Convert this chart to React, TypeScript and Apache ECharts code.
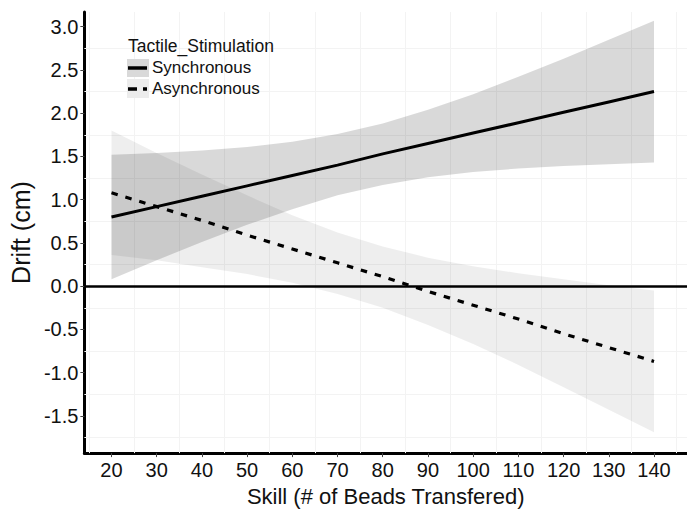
import React, { useEffect, useRef } from "react";
import * as echarts from "echarts";

const xs = [20, 30, 40, 50, 60, 70, 80, 90, 100, 110, 120, 130, 140];
const syncFit = [0.8, 0.92, 1.04, 1.16, 1.28, 1.4, 1.53, 1.65, 1.77, 1.89, 2.01, 2.13, 2.25];
const syncUpper = [1.52, 1.54, 1.57, 1.61, 1.67, 1.76, 1.88, 2.04, 2.22, 2.42, 2.63, 2.85, 3.07];
const syncLower = [0.08, 0.3, 0.51, 0.71, 0.89, 1.05, 1.17, 1.26, 1.32, 1.36, 1.39, 1.41, 1.43];
const asyncFit = [1.08, 0.92, 0.76, 0.59, 0.43, 0.27, 0.11, -0.06, -0.22, -0.38, -0.55, -0.71, -0.87];
const asyncUpper = [1.8, 1.54, 1.29, 1.05, 0.82, 0.62, 0.46, 0.33, 0.23, 0.15, 0.08, 0.01, -0.05];
const asyncLower = [0.36, 0.3, 0.22, 0.14, 0.04, -0.09, -0.25, -0.45, -0.67, -0.91, -1.17, -1.43, -1.69];

const minorGridX = [15, 25, 35, 45, 55, 65, 75, 85, 95, 105, 115, 125, 135, 145];
const minorGridY = [-1.75, -1.25, -0.75, -0.25, 0.25, 0.75, 1.25, 1.75, 2.25, 2.75];

const seriesNames = ["Synchronous", "Asynchronous"];
const legendTitle = "Tactile_Stimulation";
const xTitle = "Skill (# of Beads Transfered)";
const yTitle = "Drift (cm)";

const FONT = "'Liberation Sans', Arial, sans-serif";

const pairs = (arr: number[]) => xs.map((x, i) => [x, arr[i]]);

const bandSeries = (name: string, upper: number[], lower: number[], fill: string) => ({
  name,
  type: "custom",
  silent: true,
  clip: true,
  z: 2,
  data: [[xs[0], lower[0], upper[0]]],
  renderItem: (_params: any, api: any) => {
    const pts: number[][] = [];
    for (let i = 0; i < xs.length; i++) pts.push(api.coord([xs[i], upper[i]]));
    for (let i = xs.length - 1; i >= 0; i--) pts.push(api.coord([xs[i], lower[i]]));
    return {
      type: "polygon",
      shape: { points: pts },
      style: { fill, stroke: "none" },
    };
  },
});

export default function App() {
  const ref = useRef<HTMLDivElement>(null);
  useEffect(() => {
    if (!ref.current) return;
    const chart = echarts.init(ref.current, null, { renderer: "svg" });
    const option: any = {
      animation: false,
      grid: { left: 82, top: 12, right: 0, bottom: 47, containLabel: false },
      xAxis: {
        type: "value",
        min: 14,
        max: 147.3,
        minInterval: 10,
        maxInterval: 10,
        splitNumber: 13,
        name: xTitle,
        nameLocation: "middle",
        nameGap: 31,
        nameTextStyle: { fontSize: 22, color: "#111", fontFamily: FONT },
        axisLine: { show: true, onZero: false, lineStyle: { color: "#000", width: 3 } },
        axisTick: { show: true, length: 4, lineStyle: { color: "#444", width: 1 } },
        minorTick: { show: false },
        axisLabel: {
          fontSize: 20,
          color: "#111",
          fontFamily: FONT,
          margin: 7,
          showMinLabel: false,
          showMaxLabel: false,
          formatter: (v: number) => String(Math.round(v)),
        },
        splitLine: { show: false },
        minorSplitLine: { show: false },
      },
      yAxis: {
        type: "value",
        min: -1.93,
        max: 3.17,
        minInterval: 0.5,
        maxInterval: 0.5,
        splitNumber: 10,
        name: yTitle,
        nameLocation: "middle",
        nameRotate: 90,
        nameGap: 47,
        nameTextStyle: { fontSize: 25, color: "#111", fontFamily: FONT },
        axisLine: { show: true, lineStyle: { color: "#000", width: 3 } },
        axisTick: { show: true, length: 4, lineStyle: { color: "#444", width: 1 } },
        minorTick: { show: false },
        axisLabel: {
          fontSize: 20,
          color: "#111",
          fontFamily: FONT,
          margin: 6,
          showMinLabel: false,
          showMaxLabel: false,
          formatter: (v: number) => v.toFixed(1),
        },
        splitLine: { show: false },
        minorSplitLine: { show: false },
      },
      series: [
        {
          name: "grid",
          type: "line",
          data: [],
          symbol: "none",
          silent: true,
          z: 1,
          markLine: {
            silent: true,
            z: 1,
            symbol: ["none", "none"],
            label: { show: false },
            lineStyle: { color: "#f3f3f3", width: 1, type: "solid" },
            data: [
              ...minorGridY.map((v) => ({ yAxis: v })),
              ...minorGridX.map((v) => ({ xAxis: v })),
            ],
          },
        },
        bandSeries("syncBand", syncUpper, syncLower, "rgba(0,0,0,0.15)"),
        bandSeries("asyncBand", asyncUpper, asyncLower, "rgba(0,0,0,0.065)"),
        {
          name: seriesNames[0],
          type: "line",
          data: pairs(syncFit),
          symbol: "none",
          z: 4,
          lineStyle: { color: "#000", width: 3, type: "solid" },
          silent: true,
          markLine: {
            silent: true,
            z: 3,
            symbol: ["none", "none"],
            label: { show: false },
            lineStyle: { color: "#000", width: 2.5, type: "solid" },
            data: [{ yAxis: 0 }],
          },
        },
        {
          name: seriesNames[1],
          type: "line",
          data: pairs(asyncFit),
          symbol: "none",
          z: 4,
          lineStyle: { color: "#000", width: 3.2, type: [6.5, 8] },
          silent: true,
        },
      ],
      graphic: [
        {
          type: "text",
          left: 128,
          top: 37,
          z: 10,
          style: { text: legendTitle, fontSize: 17.5, fill: "#111", fontFamily: FONT },
        },
        { type: "rect", z: 10, shape: { x: 127, y: 59, width: 22, height: 18 }, style: { fill: "#d9d9d9" } },
        { type: "rect", z: 10, shape: { x: 127, y: 79, width: 22, height: 19 }, style: { fill: "#ececec" } },
        {
          type: "line",
          z: 11,
          shape: { x1: 128, y1: 68, x2: 147, y2: 68 },
          style: { stroke: "#000", lineWidth: 3.5 },
        },
        {
          type: "line",
          z: 11,
          shape: { x1: 128, y1: 89, x2: 147, y2: 89 },
          style: { stroke: "#000", lineWidth: 3.5, lineDash: [9, 6] },
        },
        {
          type: "text",
          left: 152,
          top: 59,
          z: 10,
          style: { text: seriesNames[0], fontSize: 17, fill: "#111", fontFamily: FONT },
        },
        {
          type: "text",
          left: 152,
          top: 80,
          z: 10,
          style: { text: seriesNames[1], fontSize: 17, fill: "#111", fontFamily: FONT },
        },
      ],
    };
    chart.setOption(option);
    return () => chart.dispose();
  }, []);
  return (
    <div
      ref={ref}
      style={{ position: "absolute", left: 0, top: 0, width: 687, height: 512 }}
    />
  );
}
